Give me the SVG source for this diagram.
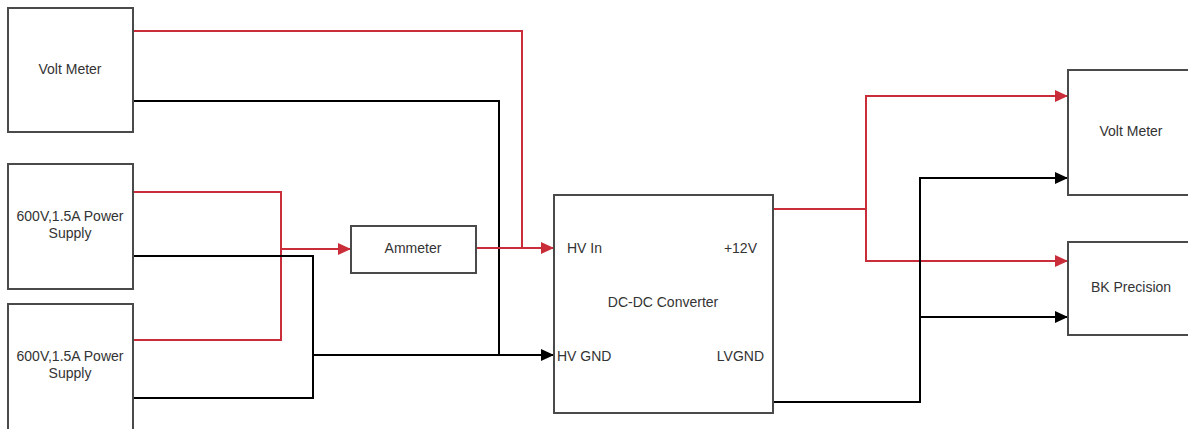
<svg xmlns="http://www.w3.org/2000/svg" width="1188" height="429" viewBox="0 0 1188 429">
<style>
.box{fill:#fff;stroke:#4a4a4a;stroke-width:2}
.t{font-family:"Liberation Sans",Arial,sans-serif;font-size:14px;fill:#333;text-anchor:middle}
.r{fill:none;stroke:#c92d39;stroke-width:2}
.k{fill:none;stroke:#000;stroke-width:2}
</style>
<defs>
<marker id="ar" markerUnits="userSpaceOnUse" markerWidth="14" markerHeight="12" refX="12" refY="6" orient="auto"><path d="M0,0 L13,6 L0,12 Z" fill="#c92d39"/></marker>
<marker id="ak" markerUnits="userSpaceOnUse" markerWidth="14" markerHeight="12" refX="12" refY="6" orient="auto"><path d="M0,0 L13,6 L0,12 Z" fill="#000"/></marker>
</defs>
<g id="connectors">
<path class="r" d="M133,31 H522 V248"/>
<path class="k" d="M133,101 H499 V355"/>
<path class="r" d="M133,192 H281 V249"/>
<path class="r" d="M133,340 H281 V249 H350" marker-end="url(#ar)"/>
<path class="k" d="M133,256 H313 V355"/>
<path class="k" d="M133,398 H313 V355 H553" marker-end="url(#ak)"/>
<path class="r" d="M476,248 H553" marker-end="url(#ar)"/>
<path class="r" d="M773,209 H866 V96 H1067" marker-end="url(#ar)"/>
<path class="r" d="M866,209 V261 H1067" marker-end="url(#ar)"/>
<path class="k" d="M773,402 H920 V178 H1067" marker-end="url(#ak)"/>
<path class="k" d="M920,317 H1067" marker-end="url(#ak)"/>
</g>
<g id="voltmeter1"><rect class="box" x="8" y="8" width="125" height="124"/><text class="t" x="70" y="74">Volt Meter</text></g>
<g id="psu1"><rect class="box" x="8" y="164" width="125" height="125"/><text class="t" x="70" y="221">600V,1.5A Power</text><text class="t" x="70" y="238">Supply</text></g>
<g id="psu2"><rect class="box" x="8" y="304" width="125" height="126"/><text class="t" x="70" y="361">600V,1.5A Power</text><text class="t" x="70" y="378">Supply</text></g>
<g id="ammeter"><rect class="box" x="351" y="226" width="125" height="47"/><text class="t" x="413" y="253">Ammeter</text></g>
<g id="dcdc"><rect class="box" x="554" y="195" width="219" height="218"/>
<text class="t" x="663" y="307">DC-DC Converter</text>
<text class="t" x="567" y="253" style="text-anchor:start">HV In</text>
<text class="t" x="757" y="253" style="text-anchor:end">+12V</text>
<text class="t" x="557" y="361" style="text-anchor:start">HV GND</text>
<text class="t" x="764" y="361" style="text-anchor:end">LVGND</text>
</g>
<g id="voltmeter2"><rect class="box" x="1068" y="70" width="125" height="125"/><text class="t" x="1131" y="136">Volt Meter</text></g>
<g id="bk"><rect class="box" x="1068" y="242" width="125" height="93"/><text class="t" x="1131" y="292">BK Precision</text></g>
</svg>
